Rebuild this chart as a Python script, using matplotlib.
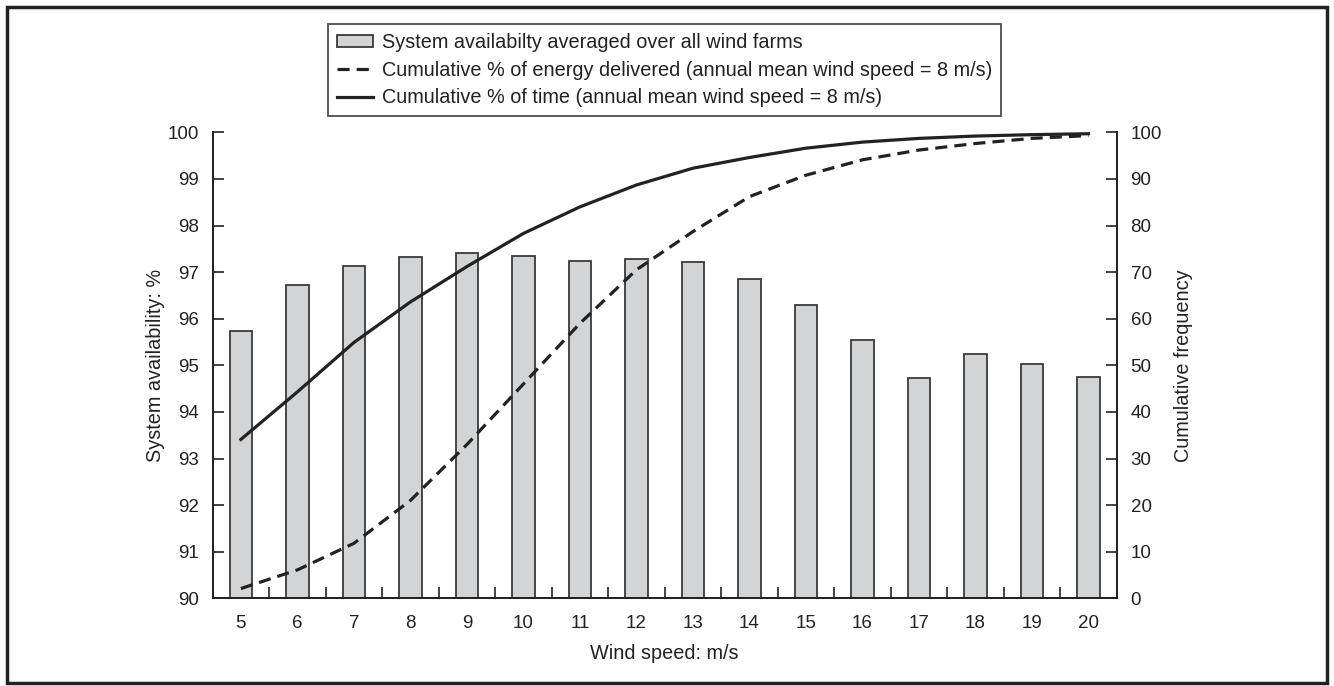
import matplotlib
matplotlib.use("Agg")
import matplotlib.pyplot as plt
from matplotlib.patches import Rectangle
from matplotlib.ticker import FixedLocator

plt.rcParams['font.family'] = ['Liberation Sans', 'DejaVu Sans']

wind_speed = [5, 6, 7, 8, 9, 10, 11, 12, 13, 14, 15, 16, 17, 18, 19, 20]
availability = [95.74, 96.73, 97.14, 97.32, 97.42, 97.34, 97.24, 97.28,
                97.21, 96.85, 96.29, 95.55, 94.73, 95.25, 95.02, 94.74]
cum_energy = [2.1, 6.1, 11.8, 21.0, 33.0, 46.0, 59.0, 70.5,
              78.7, 86.2, 90.8, 94.1, 96.2, 97.6, 98.7, 99.3]
cum_time = [34.1, 44.3, 54.9, 63.6, 71.2, 78.3, 84.0, 88.7,
            92.3, 94.6, 96.6, 97.9, 98.7, 99.2, 99.5, 99.7]

ink = '#222222'
fs = 13.5      # tick labels
fs_lab = 14.3  # axis titles and legend

fig = plt.figure(figsize=(13.34, 6.86), dpi=100)
ax = fig.add_axes([0.1594, 0.1278, 0.6777, 0.6793])
ax2 = ax.twinx()

bars = ax.bar(wind_speed, [v - 90 for v in availability], bottom=90, width=0.4,
              color='#d3d4d6', edgecolor='#3a3a3a', linewidth=1.3, zorder=2)
l_energy, = ax2.plot(wind_speed, cum_energy, color=ink, lw=2.3, ls=(0, (3.8, 2.2)))
l_time, = ax2.plot(wind_speed, cum_time, color=ink, lw=2.3)

ax.set_xlim(4.5, 20.5)
ax.set_ylim(90, 100)
ax2.set_ylim(0, 100)

ax.set_yticks(range(90, 101))
ax2.set_yticks(range(0, 101, 10))
ax.set_xticks(wind_speed)
ax.xaxis.set_minor_locator(FixedLocator([x + 0.5 for x in wind_speed[:-1]]))

for a in (ax, ax2):
    a.spines['top'].set_visible(False)
    for s in a.spines.values():
        s.set_color(ink)
        s.set_linewidth(1.3)

ax.tick_params(axis='x', which='major', length=0, pad=12, labelsize=fs, colors=ink)
ax.tick_params(axis='x', which='minor', length=8, direction='in', width=1.2, color=ink)
ax.tick_params(axis='y', length=8, direction='in', width=1.2, pad=10, labelsize=fs,
               colors=ink)
ax2.tick_params(axis='y', length=8, direction='in', width=1.2, pad=10, labelsize=fs,
                colors=ink)

ax.set_xlabel('Wind speed: m/s', fontsize=fs_lab, color=ink, labelpad=9)
ax.set_ylabel('System availability: %', fontsize=fs_lab, color=ink, labelpad=2)
ax2.set_ylabel('Cumulative frequency', fontsize=fs_lab, color=ink, labelpad=9)

leg = fig.legend([bars, l_energy, l_time],
                 ['System availabilty averaged over all wind farms',
                  'Cumulative % of energy delivered (annual mean wind speed = 8 m/s)',
                  'Cumulative % of time (annual mean wind speed = 8 m/s)'],
                 loc='upper left', bbox_to_anchor=(0.2459, 0.965),
                 bbox_transform=fig.transFigure, borderaxespad=0,
                 fontsize=fs_lab, fancybox=False, frameon=True, handlelength=1.8,
                 handleheight=0.5, handletextpad=0.45, labelspacing=0.44,
                 borderpad=0.45)
leg.get_frame().set_edgecolor(ink)
leg.get_frame().set_linewidth(1.3)
for t in leg.get_texts():
    t.set_color(ink)

# outer frame around the whole figure
fig.patches.append(Rectangle((0.0055, 0.005), 0.9895, 0.985, transform=fig.transFigure,
                             fill=False, edgecolor=ink, linewidth=2.5))

fig.savefig('out.png', dpi=100)
